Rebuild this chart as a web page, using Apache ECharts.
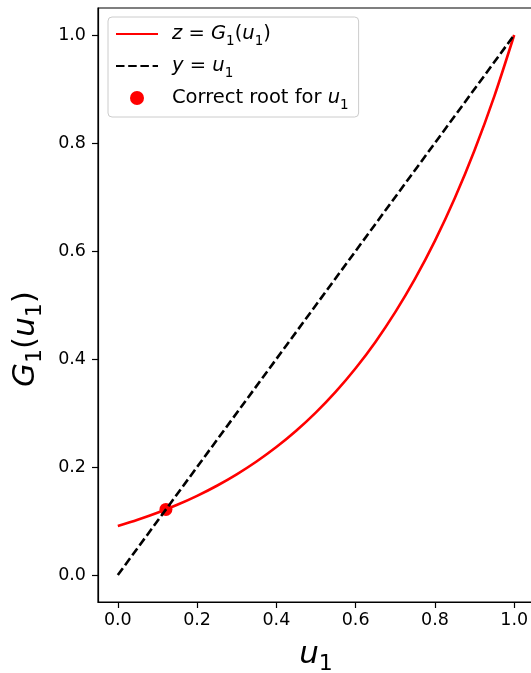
<!DOCTYPE html>
<html><head><meta charset="utf-8">
<script src="https://cdn.jsdelivr.net/npm/echarts@6/dist/echarts.min.js"></script>
<style>html,body{margin:0;padding:0;background:#fff}#c{width:531px;height:673px}</style>
</head><body><div id="c"></div>
<script>
// u1 sample points and G1(u1) values
const u1Values = [0.00,0.05,0.10,0.15,0.20,0.25,0.30,0.35,0.40,0.45,0.50,0.55,0.60,0.65,0.70,0.75,0.80,0.85,0.90,0.95,1.00];
const g1Values = [0.0907,0.1023,0.1153,0.1300,0.1466,0.1653,0.1864,0.2101,0.2369,0.2671,0.3012,0.3396,0.3829,0.4317,0.4868,0.5488,0.6188,0.6977,0.7866,0.8869,1.0000];
// y = u1 line endpoints
const identityX = [0, 1];
const identityY = [0, 1];
// correct root
const rootX = [0.1214];
const rootY = [0.1214];
// tick labels
const tickValues = [0.0, 0.2, 0.4, 0.6, 0.8, 1.0];

const FONT = 'DejaVu Sans';
const chart = echarts.init(document.getElementById('c'), null, {renderer: 'canvas'});

const curveData = u1Values.map((u, i) => [u, g1Values[i]]);
const identityData = identityX.map((x, i) => [x, identityY[i]]);
const rootData = rootX.map((x, i) => [x, rootY[i]]);

const legendRich = {
  t: {fontFamily: FONT, fontSize: 19.5, color: '#000', lineHeight: 22},
  i: {fontFamily: FONT, fontSize: 19.5, fontStyle: 'italic', color: '#000', lineHeight: 22},
  s: {fontFamily: FONT, fontSize: 13.5, color: '#000', lineHeight: 13, verticalAlign: 'bottom', padding: [0, 0, -3, 0]}
};
const legendLabels = {
  'G': '{i|z}{t| = }{i|G}{s|1}{t|(}{i|u}{s|1}{t|)}',
  'Y': '{i|y}{t| = }{i|u}{s|1}',
  'R': '{t|Correct root for }{i|u}{s|1}'
};

const axisCommon = {
  type: 'value',
  min: -0.05,
  max: 1.05,
  splitLine: {show: false},
  axisLine: {show: true, onZero: false, lineStyle: {color: '#000', width: 1.2}},
  axisTick: {show: true, inside: false, length: 6, lineStyle: {color: '#000', width: 1.2}, customValues: tickValues},
  axisLabel: {fontFamily: FONT, fontSize: 17.5, color: '#000', customValues: tickValues, formatter: v => v.toFixed(1)}
};

chart.setOption({
  backgroundColor: '#fff',
  animation: false,
  grid: {left: 98, top: 8, width: 436, height: 594, containLabel: false, outerBoundsMode: 'none',
         show: true, borderColor: '#000', borderWidth: 1.2, backgroundColor: 'transparent'},
  xAxis: Object.assign({}, axisCommon, {
    axisLabel: Object.assign({}, axisCommon.axisLabel, {margin: 9}),
    name: '{i|u}{s|1}',
    nameLocation: 'middle',
    nameGap: 36,
    nameTextStyle: {rich: {
      i: {fontFamily: FONT, fontSize: 31, fontStyle: 'italic', color: '#000', lineHeight: 34},
      s: {fontFamily: FONT, fontSize: 22, color: '#000', lineHeight: 22, verticalAlign: 'bottom', padding: [0,0,-3,0]}
    }}
  }),
  yAxis: Object.assign({}, axisCommon, {
    axisLabel: Object.assign({}, axisCommon.axisLabel, {margin: 12}),
    name: '{i|G}{s|1}{t|(}{i|u}{s|1}{t|)}',
    nameLocation: 'middle',
    nameRotate: 90,
    nameGap: 55,
    nameTextStyle: {padding: [0, 68, 0, 0], rich: {
      t: {fontFamily: FONT, fontSize: 31, color: '#000', lineHeight: 34},
      i: {fontFamily: FONT, fontSize: 31, fontStyle: 'italic', color: '#000', lineHeight: 34},
      s: {fontFamily: FONT, fontSize: 22, color: '#000', lineHeight: 22, verticalAlign: 'bottom', padding: [0,0,-3,0]}
    }}
  }),
  legend: {
    orient: 'vertical',
    left: 108,
    top: 17,
    padding: [7, 10, 5, 7],
    itemWidth: 42,
    itemHeight: 14,
    itemGap: 8,
    backgroundColor: 'rgba(255,255,255,0.8)',
    borderColor: '#cccccc',
    borderWidth: 1,
    borderRadius: 4,
    textStyle: {fontFamily: FONT, fontSize: 19.5, color: '#000', padding: [0, 0, 0, 9], rich: legendRich},
    data: [
      {name: 'G', itemStyle: {opacity: 0}},
      {name: 'Y', itemStyle: {opacity: 0}},
      {name: 'R', icon: 'circle'}
    ],
    formatter: name => legendLabels[name]
  },
  series: [
    {
      name: 'R', type: 'scatter', data: rootData, symbol: 'circle', symbolSize: 13,
      itemStyle: {color: '#ff0000', opacity: 1}, z: 1
    },
    {
      name: 'G', type: 'line', data: curveData, symbol: 'none', smooth: 0.3,
      lineStyle: {color: '#ff0000', width: 2.6}, itemStyle: {color: '#ff0000'}, z: 2
    },
    {
      name: 'Y', type: 'line', data: identityData, symbol: 'none',
      lineStyle: {color: '#000', width: 2.6, type: [8.5, 3.7]}, itemStyle: {color: '#000'}, z: 3
    }
  ]
});
</script></body></html>
